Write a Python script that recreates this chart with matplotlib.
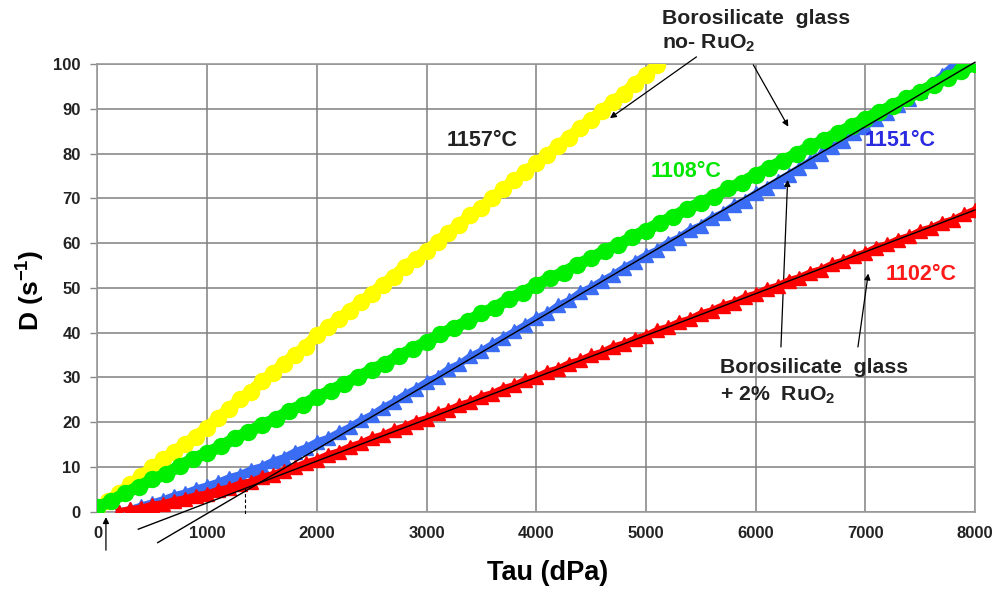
import numpy as np
import matplotlib
matplotlib.use("Agg")
import matplotlib.pyplot as plt

plt.rcParams["font.family"] = ["Liberation Sans", "DejaVu Sans"]
plt.rcParams["font.weight"] = "bold"
plt.rcParams["mathtext.fontset"] = "custom"
plt.rcParams["mathtext.rm"] = "Liberation Sans:bold"
plt.rcParams["mathtext.bf"] = "Liberation Sans:bold"
plt.rcParams["mathtext.it"] = "Liberation Sans:bold"

# DATA

# 1157°C, borosilicate glass without RuO2
tau_1157 = np.arange(0, 5101, 100)
d_1157 = [0.8, 2.5, 4.2, 6.1, 8.0, 9.9, 11.7, 13.4, 15.2, 16.8,
          18.8, 21.0, 22.9, 25.1, 26.8, 29.2, 30.9, 33.1, 35.0, 36.9,
          39.4, 41.2, 43.0, 44.9, 46.8, 48.6, 50.7, 52.5, 54.7, 56.4,
          58.3, 60.2, 62.3, 64.1, 66.2, 67.9, 70.1, 72.0, 74.1, 75.8,
          77.8, 79.6, 81.8, 83.5, 85.8, 87.4, 89.6, 91.5, 93.4, 95.6,
          97.6, 99.8]

# 1108°C, borosilicate glass without RuO2
tau_1108 = np.arange(0, 8001, 125)
d_1108 = [1.0, 2.4, 4.1, 5.6, 7.2, 8.4, 10.3, 11.8, 13.2, 14.6,
          16.4, 17.8, 19.4, 20.7, 22.6, 23.9, 25.6, 27.0, 28.6, 30.1,
          31.7, 33.1, 34.8, 36.4, 37.9, 39.6, 41.1, 42.5, 44.3, 45.6,
          47.5, 48.9, 50.6, 52.2, 53.4, 55.2, 56.6, 58.3, 59.6, 61.4,
          62.8, 64.5, 65.9, 67.6, 69.0, 70.4, 72.2, 73.5, 75.3, 76.8,
          78.4, 79.9, 81.6, 83.0, 84.6, 86.1, 87.8, 89.2, 90.7, 92.3,
          93.8, 95.4, 96.9, 98.4, 100.0]

# 1151°C, borosilicate glass + 2% RuO2
tau_1151 = np.arange(200, 7801, 100)
d_1151 = [0.0, 0.5, 1.3, 2.0, 2.7, 3.6, 4.2, 5.1, 5.8, 6.6,
          7.6, 8.3, 9.4, 10.1, 11.3, 12.1, 13.4, 14.3, 15.6, 16.4,
          17.7, 18.9, 20.4, 21.6, 23.2, 24.5, 26.1, 27.4, 29.0, 30.1,
          31.9, 33.0, 34.7, 35.9, 37.4, 38.8, 40.3, 41.7, 43.2, 44.3,
          46.1, 47.2, 49.0, 50.1, 51.6, 52.9, 54.5, 55.8, 57.3, 58.4,
          60.1, 61.2, 62.9, 63.9, 65.6, 66.7, 68.4, 69.5, 71.1, 72.4,
          73.9, 75.3, 76.8, 78.4, 79.8, 81.5, 82.9, 84.6, 86.0, 87.7,
          89.1, 90.8, 92.2, 94.0, 95.5, 97.5, 99.7]

# 1102°C, borosilicate glass + 2% RuO2
tau_1102 = np.arange(200, 8001, 100)
d_1102 = [0.0, 0.5, 0.8, 1.5, 1.8, 2.5, 2.9, 3.6, 4.0, 4.8,
          5.3, 6.2, 6.7, 7.7, 8.3, 9.2, 9.9, 10.9, 11.6, 12.7,
          13.4, 14.5, 15.3, 16.4, 17.1, 18.2, 19.0, 20.1, 20.8, 22.0,
          22.7, 23.8, 24.5, 25.7, 26.4, 27.5, 28.2, 29.4, 30.1, 31.2,
          31.9, 33.1, 33.8, 34.9, 35.6, 36.8, 37.5, 38.6, 39.3, 40.5,
          41.2, 42.3, 43.0, 44.2, 44.9, 46.0, 46.7, 47.9, 48.6, 49.7,
          50.4, 51.6, 52.3, 53.4, 54.1, 55.3, 56.0, 57.1, 57.8, 59.0,
          59.7, 60.8, 61.5, 62.7, 63.4, 64.5, 65.2, 66.4, 67.4]

# linear fits (Bingham lines) drawn on the RuO2 series
fit_1151_tau = [549, 8000]
fit_1151_d = [-6.9, 100.4]
fit_1102_tau = [372, 8000]
fit_1102_d = [-3.9, 67.4]

# yield stress marker
yield_tau = [1344, 1344]
yield_d = [5.3, -0.7]

x_ticks = [0, 1000, 2000, 3000, 4000, 5000, 6000, 7000, 8000]
y_ticks = [0, 10, 20, 30, 40, 50, 60, 70, 80, 90, 100]

# PLOT

fig = plt.figure(figsize=(10.01, 5.89), dpi=100)
ax = fig.add_axes([0.0974, 0.1312, 0.8766, 0.7601])

ax.plot(tau_1157, d_1157, "-o", color="#ffff00", lw=8.5, ms=11.5, mec="#ffff00",
        solid_capstyle="round", zorder=3)
ax.plot(tau_1151, d_1151, "-^", color="#3a6cf4", lw=5, ms=10, mec="#3a6cf4",
        zorder=3)
ax.plot(tau_1102, d_1102, "-^", color="#ff0000", lw=5, ms=10, mec="#ff0000",
        zorder=4)
ax.plot(tau_1108, d_1108, "-o", color="#00ee00", lw=8.5, ms=11.5, mec="#00ee00",
        solid_capstyle="round", zorder=5)

ax.plot(fit_1151_tau, fit_1151_d, color="black", lw=1, zorder=6, clip_on=False)
ax.plot(fit_1102_tau, fit_1102_d, color="black", lw=1, zorder=6, clip_on=False)
ax.plot(yield_tau, yield_d, color="black", lw=0.8, ls=(0, (3, 2)), zorder=6, clip_on=False)

ax.set_xlim(0, 8000)
ax.set_ylim(0, 100)
ax.set_xticks(x_ticks)
ax.set_yticks(y_ticks)
ax.tick_params(axis="x", length=0, pad=10, labelsize=12, labelcolor="#222222")
ax.tick_params(axis="y", length=5, width=1, color="#888888", pad=7, labelsize=12,
               labelcolor="#222222")
ax.grid(True, color="#808080", lw=1.1)
ax.set_axisbelow(True)
for s in ax.spines.values():
    s.set_color("#999999")
    s.set_linewidth(1.2)

ax.set_xlabel("Tau (dPa)", fontsize=19.5, fontweight="bold")
ax.xaxis.set_label_coords(0.513, -0.108)
ax.set_ylabel("D (s$^{-1}$)", fontsize=19, fontweight="bold")
ax.yaxis.set_label_coords(-0.057, 0.495)

# labels
ax.text(3505, 83.0, "1157°C", fontsize=15.5, fontweight="bold", color="#222222",
        ha="center", va="center")
ax.text(5364, 75.9, "1108°C", fontsize=15.5, fontweight="bold", color="#00e600",
        ha="center", va="center")
ax.text(7316, 83.0, "1151°C", fontsize=15.5, fontweight="bold", color="#2a2ae0",
        ha="center", va="center")
ax.text(7508, 52.9, "1102°C", fontsize=15.5, fontweight="bold", color="#ff1a1a",
        ha="center", va="center")

ax.text(5143, 108.9, "Borosilicate  glass", fontsize=15.3, fontweight="bold",
        color="#222222", ha="left", va="baseline")
ax.text(5143, 103.5, "no- RuO$_2$", fontsize=15.3, fontweight="bold",
        color="#222222", ha="left", va="baseline")
ax.text(5675, 30.9, "Borosilicate  glass", fontsize=15.3, fontweight="bold",
        color="#222222", ha="left", va="baseline")
ax.text(5675, 24.8, "+ 2%  RuO$_2$", fontsize=15.3, fontweight="bold",
        color="#222222", ha="left", va="baseline")

arrow = dict(arrowstyle="-|>", color="black", lw=0.9, mutation_scale=9,
             shrinkA=0, shrinkB=0)
arrows = [((5461, 101.6), (4672, 87.9)),
          ((5979, 99.8), (6298, 86.0)),
          ((6231, 36.8), (6292, 74.1)),
          ((6933, 36.8), (7027, 53.2)),
          ((77, -8.6), (77, -1.2))]
for tail, head in arrows:
    ax.annotate("", xy=head, xytext=tail, arrowprops=arrow, annotation_clip=False)

fig.savefig("out.png", dpi=100)
